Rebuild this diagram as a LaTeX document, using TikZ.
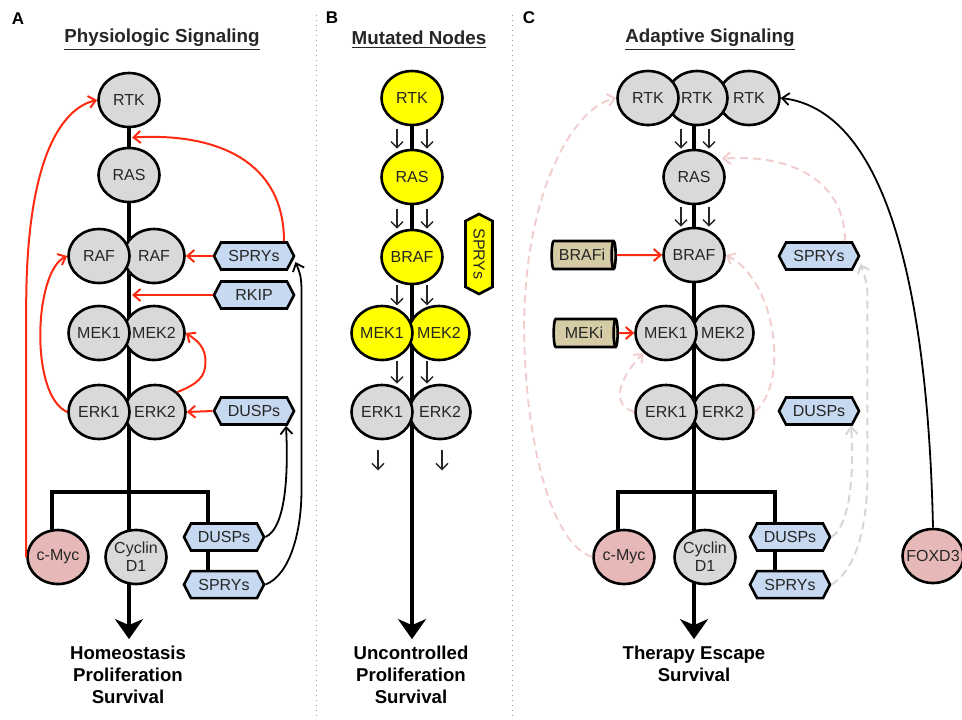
\documentclass[tikz,border=0pt]{standalone}
\usepackage{fontspec}
\setmainfont{Liberation Sans}
\setsansfont{Liberation Sans}
\usepackage{tikz}
\usetikzlibrary{arrows.meta,positioning,shapes.geometric,shapes.symbols,calc,backgrounds}
\definecolor{ink}{HTML}{262626}
\definecolor{nodegray}{HTML}{D9D9D9}
\definecolor{mutyellow}{HTML}{FFFF00}
\definecolor{mycpink}{HTML}{E6B9B8}
\definecolor{hexblue}{HTML}{C6D9F1}
\definecolor{drugtan}{HTML}{D5CCA6}
\definecolor{inhibred}{HTML}{FF2A12}
\definecolor{fadepink}{HTML}{F2CFCF}
\definecolor{fadegray}{HTML}{D6D6D6}
\definecolor{sepgray}{HTML}{9A9A9A}
\tikzset{
  every node/.style={font=\sffamily},
  prot/.style={ellipse, draw=black, line width=1.3pt, fill=nodegray, minimum width=30.5pt, minimum height=27pt, inner xsep=-1pt, inner ysep=0pt, text=ink, font=\sffamily\fontsize{8}{9}\selectfont, align=center},
  yellowprot/.style={prot, fill=mutyellow},
  pinkprot/.style={prot, fill=mycpink},
  hexbox/.style={signal, signal to=east and west, signal pointer angle=125, draw=black, line width=1.3pt, fill=hexblue, minimum width=40pt, minimum height=13.5pt, inner sep=0pt, text=ink, font=\sffamily\fontsize{8}{9}\selectfont},
  yellowhex/.style={hexbox, fill=mutyellow, rotate=-90},
  drugbox/.style={cylinder, draw=black, line width=1.3pt, fill=drugtan, aspect=0.35, minimum width=14pt, minimum height=32pt, inner sep=0pt, text=ink, font=\sffamily\fontsize{8}{9}\selectfont},
  title/.style={font=\sffamily\bfseries\fontsize{9.4}{11}\selectfont, text=ink},
  panel/.style={font=\sffamily\bfseries\fontsize{8.5}{10}\selectfont, text=black},
  outcome/.style={font=\sffamily\bfseries\fontsize{9.3}{11}\selectfont, text=black, align=center},
  spine/.style={line width=2.2pt, draw=black},
  bigarrow/.style={-{Stealth[length=10pt,width=14pt,inset=3pt]}, line width=2.2pt, draw=black},
  redarrow/.style={-{Straight Barb[length=3.5pt,width=6pt]}, line width=1pt, draw=inhibred},
  blackarrow/.style={-{Straight Barb[length=3.5pt,width=6pt]}, line width=0.9pt, draw=black},
  smallarrow/.style={-{Straight Barb[length=3pt,width=6pt]}, line width=0.7pt, draw=ink},
  pinkdash/.style={-{Straight Barb[length=3.5pt,width=6pt]}, line width=1pt, draw=fadepink, dash pattern=on 4pt off 2.5pt},
  graydash/.style={pinkdash, draw=fadegray},
  panelsep/.style={draw=sepgray, line width=0.5pt, dotted},
}
\begin{document}
\begin{tikzpicture}[x=0.5pt,y=-0.5pt]
\useasboundingbox (0,0) rectangle (962,719);
\draw[panelsep] (316,15) -- (316,719);
\draw[panelsep] (512,15) -- (512,719);

\node[panel] (labA) at (18,19) {A};
\node[title] (titA) at (162,40) {\underline{Physiologic Signaling}};
\node[prot] (rtkA) at (129,100) {RTK};
\node[prot] (rasA) at (129,175) {RAS};
\node[prot] (rafA2) at (154,256) {RAF};
\node[prot] (rafA1) at (99,256) {RAF};
\node[prot] (mekA2) at (154,333) {MEK2};
\node[prot] (mekA1) at (99,333) {MEK1};
\node[prot] (erkA2) at (155,412) {ERK2};
\node[prot] (erkA1) at (99,412) {ERK1};
\node[hexbox] (sprysA) at (254,256) {SPRYs};
\node[hexbox] (rkipA) at (254,295) {RKIP};
\node[hexbox] (duspsA) at (254,411) {DUSPs};
\node[pinkprot] (mycA) at (58,557) {c-Myc};
\node[prot] (cycA) at (136,557) {Cyclin\\D1};
\node[hexbox] (duspsA2) at (224,537) {DUSPs};
\node[hexbox, below=9pt of duspsA2] (sprysA2) {SPRYs};
\node[outcome] (outA) at (128,675) {Homeostasis\\Proliferation\\Survival};
\coordinate (barA1) at (52,492);
\coordinate (barA2) at (208,492);
\begin{scope}[on background layer]
\draw[bigarrow] (rtkA.center) -- (outA.north -| rtkA.center);
\draw[spine] (barA1 |- mycA.center) -- (barA1) -- (barA2) -- (barA2 |- sprysA2.center);
\end{scope}
\draw[redarrow] (mycA.west) -- ++(0,-250) .. controls +(0,-150) and +(-35,8) .. (rtkA.west);
\draw[redarrow] (erkA1.west) .. controls +(-38,-17) and +(-33,15) .. (rafA1.west);
\draw[redarrow] ([xshift=15pt]sprysA.north) .. controls +(0,-80) and +(85,-5) .. ([xshift=1.5pt]$(rtkA.south)!0.5!(rasA.north)$);
\draw[redarrow] (sprysA.west) -- (rafA2.east);\draw[redarrow] (rkipA.west) -- ([xshift=1.5pt]rkipA.west -| rtkA.center);\draw[redarrow] (duspsA.west) -- (erkA2.east);
\draw[redarrow] (erkA2.north east) .. controls +(20,-8) and +(0,15) .. ++(28,-30) .. controls +(0,-15) and +(12,8) .. (mekA2.east);
\draw[blackarrow] (sprysA2.east) .. controls +(25,-10) and +(0,40) .. ++(36,-94) -- ++(0,-200) .. controls +(0,-15) and +(4,10) .. ([yshift=-3pt]sprysA.east);
\draw[blackarrow] (duspsA2.east) .. controls +(22,-10) and +(2,40) .. ([xshift=16pt]duspsA.south);

\node[panel] (labB) at (332,18) {B};
\node[title] (titB) at (419,40) {\underline{Mutated Nodes}};
\node[yellowprot] (rtkB) at (412,98) {RTK};
\node[yellowprot] (rasB) at (412,177) {RAS};
\node[yellowprot] (brafB) at (412,257) {BRAF};
\node[yellowprot] (mekB2) at (439,333) {MEK2};
\node[yellowprot] (mekB1) at (382,333) {MEK1};
\node[prot] (erkB2) at (440,412) {ERK2};
\node[prot] (erkB1) at (382,412) {ERK1};
\node[yellowhex] (sprysB) at (479,254) {SPRYs};
\node[outcome] (outB) at (411,675) {Uncontrolled\\Proliferation\\Survival};
\begin{scope}[on background layer]
\draw[bigarrow] (rtkB.center) -- (outB.north -| rtkB.center);
\end{scope}
\foreach \v in {rasB, brafB}{
  \draw[smallarrow] ([xshift=-7.5pt,yshift=10pt]\v.north) -- ([xshift=-7.5pt]\v.north);
  \draw[smallarrow] ([xshift=7.5pt,yshift=10pt]\v.north) -- ([xshift=7.5pt]\v.north);
}
\draw[smallarrow] ([xshift=-7.5pt]brafB.south) -- ++(0,20);\draw[smallarrow] ([xshift=7.5pt]brafB.south) -- ++(0,20);
\draw[smallarrow] ([xshift=7.5pt]mekB1.south) -- ([xshift=7.5pt]erkB1.north);\draw[smallarrow] ([xshift=-6pt]mekB2.south) -- ([xshift=-6.5pt]erkB2.north);
\draw[smallarrow] ([xshift=-2pt,yshift=-5pt]erkB1.south) -- ++(0,20);\draw[smallarrow] ([xshift=1pt,yshift=-5pt]erkB2.south) -- ++(0,20);

\node[panel] (labC) at (529,18) {C};
\node[title] (titC) at (710,40) {\underline{Adaptive Signaling}};
\node[prot] (rtkC3) at (749,98) {RTK};
\node[prot] (rtkC2) at (697,98) {RTK};
\node[prot] (rtkC1) at (648,98) {RTK};
\node[prot] (rasC) at (694,177) {RAS};
\node[prot] (brafC) at (694,255) {BRAF};
\node[prot] (mekC2) at (723,333) {MEK2};
\node[prot] (mekC1) at (666,333) {MEK1};
\node[prot] (erkC2) at (723,412) {ERK2};
\node[prot] (erkC1) at (666,412) {ERK1};
\node[drugbox] (brafi) at (582,255) {BRAFi};
\node[drugbox] (meki) at (584,333) {MEKi};
\node[hexbox] (sprysC) at (819,256) {SPRYs};
\node[hexbox] (duspsC) at (819,411) {DUSPs};
\node[pinkprot] (mycC) at (624,557) {c-Myc};
\node[prot] (cycC) at (705,557) {Cyclin\\D1};
\node[hexbox] (duspsC2) at (790,537) {DUSPs};
\node[hexbox, below=9pt of duspsC2] (sprysC2) {SPRYs};
\node[pinkprot, inner xsep=-4pt] (foxd3) at (933,556) {FOXD3};
\node[outcome] (outC) at (694,664) {Therapy Escape\\Survival};
\coordinate (barC1) at (618,492);
\coordinate (barC2) at (775,492);
\begin{scope}[on background layer]
\draw[bigarrow] (rasC |- rtkC2.center) -- (outC.north -| rasC.center);
\draw[spine] (barC1 |- mycC.center) -- (barC1) -- (barC2) -- (barC2 |- sprysC2.center);
\end{scope}
\foreach \v in {rasC, brafC}{
  \draw[smallarrow] ([xshift=-6.5pt,yshift=10pt]\v.north) -- ([xshift=-6.5pt]\v.north);
  \draw[smallarrow] ([xshift=7.5pt,yshift=10pt]\v.north) -- ([xshift=7.5pt]\v.north);
}
\draw[redarrow] (brafi.east) -- (brafC.west);\draw[redarrow] (meki.east) -- (mekC1.west);
\draw[blackarrow] (foxd3.north) .. controls +(-5,-227) and +(109,13) .. (rtkC3.east);
\draw[pinkdash] (mycC.west) .. controls +(-45,-15) and +(0,100) .. ++(-68,-230) .. controls +(0,-130) and +(-45,10) .. (rtkC1.west);
\draw[pinkdash] (erkC1.west) .. controls +(-30,-10) and +(-15,15) .. (mekC1.south west);
\draw[pinkdash] (erkC2.east) .. controls +(35,-30) and +(50,25) .. (brafC.east);
\draw[pinkdash] ([xshift=13pt]sprysC.north) .. controls +(0,-60) and +(70,-5) .. ([xshift=14pt]$(rasC.north)+(0,10)$);
\draw[graydash] (sprysC2.east) .. controls +(25,-15) and +(0,50) .. ++(36,-110) -- ++(0,-180) .. controls +(0,-12) and +(3,8) .. ([yshift=-4pt]sprysC.east);
\draw[graydash] (duspsC2.east) .. controls +(20,-12) and +(3,40) .. ([xshift=16pt]duspsC.south);
\end{tikzpicture}
\end{document}
